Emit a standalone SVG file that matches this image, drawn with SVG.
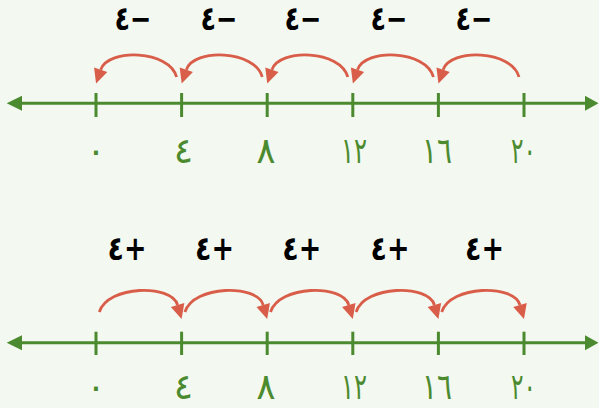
<svg xmlns="http://www.w3.org/2000/svg" width="599" height="408" viewBox="0 0 599 408">
<defs>
<style>
.axis{stroke:#4b8a2f;stroke-width:3;fill:none}
.tick{stroke:#4b8a2f;stroke-width:3}
.head{fill:#4b8a2f}
.jump{stroke:#d95e4a;stroke-width:2.8;fill:none;marker-end:url(#ah)}
.num{font-family:"DejaVu Sans",sans-serif;font-size:36px;fill:#4b8a2f;text-anchor:middle}
.op{font-family:"DejaVu Sans",sans-serif;font-weight:bold;font-size:33px;fill:#000;text-anchor:middle}
</style>
<marker id="ah" markerUnits="userSpaceOnUse" viewBox="-1 -8 17 16" markerWidth="17" markerHeight="16" refX="0" refY="0" orient="auto">
<path d="M0,-7 L14.5,0 L0,7 z" fill="#d95e4a"/>
</marker>
</defs>
<rect width="599" height="408" fill="#f3f8f0"/>

<g id="numberline-top">
<line class="axis" x1="20" y1="103.3" x2="586" y2="103.3"/>
<path class="head" d="M6.7,103.3 L22,95.8 L22,110.8 z"/>
<path class="head" d="M598.5,103.3 L585,95.8 L585,110.8 z"/>
<line class="tick" x1="96" y1="93" x2="96" y2="117"/>
<line class="tick" x1="181.6" y1="93" x2="181.6" y2="117"/>
<line class="tick" x1="267.2" y1="93" x2="267.2" y2="117"/>
<line class="tick" x1="352.8" y1="93" x2="352.8" y2="117"/>
<line class="tick" x1="438.4" y1="93" x2="438.4" y2="117"/>
<line class="tick" x1="524" y1="93" x2="524" y2="117"/>
<text class="num" x="96" y="163">٠</text>
<text class="num" x="183.5" y="163">٤</text>
<text class="num" x="266" y="163">٨</text>
<text class="num" x="354" y="163" textLength="26" lengthAdjust="spacingAndGlyphs">١٢</text>
<text class="num" x="437" y="163" textLength="30" lengthAdjust="spacingAndGlyphs">١٦</text>
<text class="num" x="523.5" y="163" textLength="25" lengthAdjust="spacingAndGlyphs">٢٠</text>
</g>

<g id="numberline-bottom">
<line class="axis" x1="20" y1="342.7" x2="586" y2="342.7"/>
<path class="head" d="M6.7,342.7 L22,335.2 L22,350.2 z"/>
<path class="head" d="M598.5,342.7 L585,335.2 L585,350.2 z"/>
<line class="tick" x1="96" y1="331.7" x2="96" y2="355"/>
<line class="tick" x1="181.6" y1="331.7" x2="181.6" y2="355"/>
<line class="tick" x1="267.2" y1="331.7" x2="267.2" y2="355"/>
<line class="tick" x1="352.8" y1="331.7" x2="352.8" y2="355"/>
<line class="tick" x1="438.4" y1="331.7" x2="438.4" y2="355"/>
<line class="tick" x1="524" y1="331.7" x2="524" y2="355"/>
<text class="num" x="96" y="399">٠</text>
<text class="num" x="183.5" y="399">٤</text>
<text class="num" x="266" y="399">٨</text>
<text class="num" x="354" y="399" textLength="26" lengthAdjust="spacingAndGlyphs">١٢</text>
<text class="num" x="437" y="399" textLength="30" lengthAdjust="spacingAndGlyphs">١٦</text>
<text class="num" x="523.5" y="399" textLength="25" lengthAdjust="spacingAndGlyphs">٢٠</text>
</g>

<g id="connectors">
<path class="jump" d="M176.6,77 C169.6,50 108,48 100.7,69.7"/>
<path class="jump" d="M262.2,77 C255.2,50 193.6,48 186.3,69.7"/>
<path class="jump" d="M347.8,77 C340.8,50 279.2,48 271.9,69.7"/>
<path class="jump" d="M433.4,77 C426.4,50 364.8,48 357.5,69.7"/>
<path class="jump" d="M519,77 C512,50 450.4,48 443.1,69.7"/>
<path class="jump" d="M99.3,312 C108,285 171.6,284 177.6,305"/>
<path class="jump" d="M184.9,312 C193.6,285 257.2,284 263.2,305"/>
<path class="jump" d="M270.5,312 C279.2,285 342.8,284 348.8,305"/>
<path class="jump" d="M356.1,312 C364.8,285 428.4,284 434.4,305"/>
<path class="jump" d="M441.7,312 C450.4,285 514,284 520,305"/>
</g>

<g id="labels-top">
<text class="op" x="133" y="30" direction="rtl" textLength="37" lengthAdjust="spacingAndGlyphs">−٤</text>
<text class="op" x="219" y="30" direction="rtl" textLength="37" lengthAdjust="spacingAndGlyphs">−٤</text>
<text class="op" x="303" y="30" direction="rtl" textLength="37" lengthAdjust="spacingAndGlyphs">−٤</text>
<text class="op" x="389" y="30" direction="rtl" textLength="37" lengthAdjust="spacingAndGlyphs">−٤</text>
<text class="op" x="474" y="30" direction="rtl" textLength="37" lengthAdjust="spacingAndGlyphs">−٤</text>
</g>

<g id="labels-bottom">
<text class="op" x="127" y="260" direction="rtl" textLength="39" lengthAdjust="spacingAndGlyphs">+٤</text>
<text class="op" x="214.5" y="260" direction="rtl" textLength="39" lengthAdjust="spacingAndGlyphs">+٤</text>
<text class="op" x="301.7" y="260" direction="rtl" textLength="39" lengthAdjust="spacingAndGlyphs">+٤</text>
<text class="op" x="390" y="260" direction="rtl" textLength="39" lengthAdjust="spacingAndGlyphs">+٤</text>
<text class="op" x="484.5" y="260" direction="rtl" textLength="39" lengthAdjust="spacingAndGlyphs">+٤</text>
</g>
</svg>
